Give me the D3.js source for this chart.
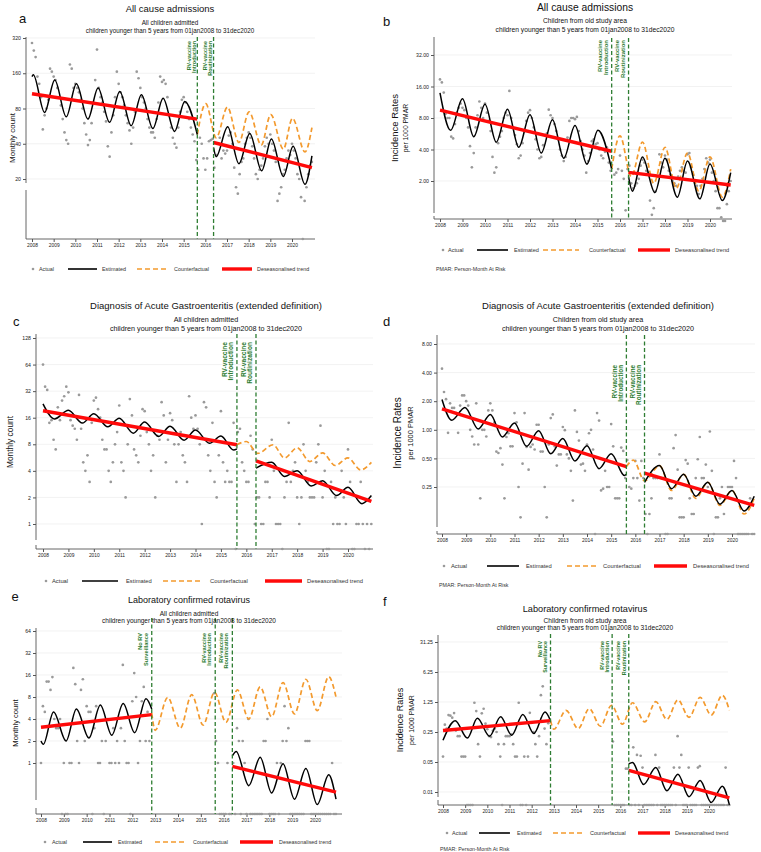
<!DOCTYPE html>
<html><head><meta charset="utf-8">
<script src="https://cdn.jsdelivr.net/npm/d3@7"></script>
<style>body{margin:0;background:#fff}svg{display:block;font-family:"Liberation Sans",Arial,sans-serif}</style>
</head><body><svg id="c" width="761" height="852"></svg>
<script>
// ---------------- DATA ----------------
const years = [2008,2009,2010,2011,2012,2013,2014,2015,2016,2017,2018,2019,2020];
const firstMonth = 2008;              // Jan 2008, monthly series of 156 months
const rvIntroduction = 2015.63;       // RV-vaccine introduction
const rvRoutinization = 2016.38;      // RV-vaccine routinization
const noSurveillance = 2012.85;       // end of RV surveillance

const legendLabels = ["Actual","Estimated","Counterfactual","Deseasonalised trend"];

// Panel a: all cause admissions, all children (monthly count)
const aActual = [
290,250,220,150,130,100,53,70,80,95,175,165,
150,140,120,100,85,65,50,43,40,190,175,120,
130,120,110,95,80,60,48,39,43,60,90,140,
255,120,100,90,75,62,38,31,50,70,100,165,
130,110,100,85,70,60,52,40,55,75,165,145,
120,100,90,80,65,55,50,50,45,65,90,150,
135,140,130,100,70,55,45,40,37,55,75,95,
100,90,75,65,55,48,42,29,24,45,40,30,
24,30,42,43,44,25,32,40,45,30,35,33,
35,47,50,40,25,17,15,22,28,30,40,45,
50,45,38,30,22,20,24,26,30,38,45,40,
48,40,35,28,13,15,17,22,24,30,35,32,
40,35,30,22,20,14,0,13,17,22,26,28];
const aTrendPre = [[2008,107],[2015.63,65]];
const aTrendPost = [[2016.38,41],[2020.92,25]];
const aEstPre = [[2008,150],[2008.06,155],[2008.58,74],[2009.05,140],[2009.58,68],[2010.05,130],[2010.58,65],[2011.05,120],[2011.58,61],[2012.05,112],[2012.58,57],[2013.05,105],[2013.58,54],[2014.05,98],[2014.58,51],[2015.05,92],[2015.63,48]];
const aCounterfactual = [[2015.63,48],[2016.02,88],[2016.5,45],[2017.02,82],[2017.55,41],[2018.02,75],[2018.58,39],[2019.02,71],[2019.6,36],[2020.02,66],[2020.6,34],[2020.92,55]];
const aEstPost = [[2016.38,37],[2016.5,31],[2017.03,56],[2017.55,27],[2018.05,49],[2018.6,23.5],[2019.05,44],[2019.6,21],[2020.05,38],[2020.6,18],[2020.92,31.5]];

// Panel b: all cause admissions, old study area (rate per 1000 PMAR)
const bActual = [
18.7,17.5,14,8.8,8,8,5.3,5.1,7,9,10,11,
10,9.5,8,6.5,4.3,2.7,3.7,6.5,8.5,11.5,10,8,
11,9,7.5,6,3.4,2.4,2.7,4.6,5.3,6,8,9,
8.5,14.5,8,6.5,5.5,4.5,3.3,3.5,4.6,6,7.5,9,
9.5,8,6.5,5,4,3.3,3.4,4.4,5.5,5.7,9.6,8.5,
8,7,6,5,4,3.5,3.1,3.4,5.2,7.5,8,8,
7.8,8.2,6,4.8,4,3.5,2.4,3.1,3.7,4.8,5,4.5,
4.6,4,3.5,3.3,3.8,4.2,3,2.5,1.05,2.3,2.4,2.6,
3.5,2.5,2.1,1.05,2.6,2.8,1.9,1.7,1.8,1.9,2.1,2.8,
3.2,3,2.5,2.4,1.3,0.95,1.1,1.6,2.2,3.6,3,2.7,
3.5,3.2,2.5,2.3,2,1.9,1.8,2.2,2.5,2.7,2.5,2.4,
3.6,3.7,2.7,2.3,2,1.8,1.5,1.8,2.1,2.6,3.3,3,
3.2,2.4,2.0,1.6,1.1,1.1,0.9,0.83,0.83,1.2,1.6,2.0];
const bTrendPre = [[2008,9.5],[2015.63,3.85]];
const bTrendPost = [[2016.38,2.42],[2020.92,1.83]];
const bEstPre = [[2008,13.9],[2008.47,6.1],[2009,12.2],[2009.5,5.3],[2010,10.8],[2010.5,4.7],[2011,9.7],[2011.5,4.2],[2012,8.6],[2012.5,3.7],[2013,7.7],[2013.5,3.3],[2014,6.8],[2014.53,2.9],[2015.02,6.1],[2015.63,2.6]];
const bCounterfactual = [[2015.63,2.6],[2016.0,5.4],[2016.5,2.2],[2017.0,4.7],[2017.5,1.9],[2018.0,4.2],[2018.5,1.7],[2019.0,3.7],[2019.5,1.6],[2020.0,3.4],[2020.55,1.4],[2020.92,2.6]];
const bEstPost = [[2016.38,2.2],[2016.55,1.6],[2017.0,3.4],[2017.55,1.55],[2018.0,3.3],[2018.55,1.4],[2019.0,3.1],[2019.55,1.35],[2020.0,2.9],[2020.55,1.3],[2020.92,2.4]];

// Panel c: AGE (extended), all children (monthly count)
const cActual = [
64,36,33,14,15,9,7,21,15,25,28,36,
31,15,13,12,9,29,12,5,4,6,3,14,
25,27,20,16,9,7,7,4,3,5,8,11,
22,5,4,2,8,26,17,7,6,5,10,20,
19,11,8,4,6,2,10,9,24,17,5,9,
18,15,8,3,8,11,6,5,3,28,16,12,
17,12,8,1,24,21,6,4,14,3,2,6,
19,5,3,4,3,3,14,0,11,12,5,4,
3,3,10,7,1,2,2,1,1,3,3,2,
9,4,1,1,1,0,2,3,14,3,4,5,
2,1,2,8,4,3,2,2,2,5,8,13,
2,4,0,0,3,1,2,1,1,4,2,1,
7,3,0,0,1,1,3,1,0,1,0,1];
const cTrendPre = [[2008,19.2],[2015.63,7.9]];
const cTrendPost = [[2016.38,5.2],[2020.92,1.8]];
const cEstPre = [[2008,23],[2008.45,15.5],[2009.0,19.4],[2009.55,13.9],[2010.0,17.8],[2010.55,12.6],[2011.0,15.8],[2011.55,10.7],[2012.0,14.3],[2012.55,9.8],[2013.0,12.8],[2013.55,8.9],[2014.0,11.6],[2014.55,8.2],[2015.0,9.9],[2015.5,6.9],[2015.63,7.1]];
const cCounterfactual = [[2015.63,7.9],[2016.0,8.6],[2016.45,6.3],[2017.05,7.9],[2017.5,5.6],[2018.0,7.3],[2018.5,5.1],[2019.0,6.4],[2019.5,4.6],[2020.0,5.6],[2020.5,4.1],[2020.92,5.0]];
const cEstPost = [[2016.38,4.3],[2017.0,5.0],[2017.5,3.45],[2018.0,4.0],[2018.55,2.7],[2019.0,3.1],[2019.55,2.1],[2020.0,2.6],[2020.55,1.7],[2020.92,2.1]];

// Panel d: AGE (extended), old study area (rate per 1000 PMAR)
const dActual = [
4.4,2.5,2.1,0.93,1.9,1.7,1.7,1.5,0.93,1.8,2.3,2.3,
2.0,1.8,1.0,0.85,0.7,1.9,0.7,0.19,1.0,1.0,0.85,1.6,
1.9,1.6,1.2,0.59,0.57,0.64,0.43,0.19,0.84,0.92,0.67,0.67,
1.5,1.2,0.25,0.12,0.44,1.5,0.66,0.38,0.66,0.7,0.62,1.13,
1.13,0.59,0.59,0.25,0.12,0.7,1.33,1.45,0.67,0.42,0.55,0.55,
1.07,0.99,0.55,0.5,0.37,0.18,1.6,0.95,0.77,0.43,0.44,0.37,
0.7,0.92,1.0,0.62,0,1.5,1.25,0.23,0.24,0.37,0.25,0.25,
1.15,0.67,0.19,0.19,0.19,0.65,0.6,0.31,0.48,0.25,0.24,0.31,
0.47,0.31,0.18,0.47,0.31,0.13,0,0.13,0.19,0.31,0.31,0.31,
0.55,0.31,0.31,0,0,0.19,0.19,0.64,0.88,0.38,0.12,0.12,
0.12,0.48,0.44,0.19,0.13,0.13,0.31,0.49,0.84,0.31,0.31,0.43,
0.25,0.96,0.37,0,0.12,0.12,0.19,0.25,0.13,0.19,0.25,0.25,
0.25,0.47,0.31,0,0,0,0,0,0,0.19,0,0];
const dTrendPre = [[2008,1.66],[2015.63,0.41]];
const dTrendPost = [[2016.38,0.35],[2020.92,0.16]];
const dEstPre = [[2008,2.08],[2008.4,1.26],[2008.95,1.72],[2009.5,1.02],[2010,1.45],[2010.5,0.84],[2011,1.18],[2011.5,0.67],[2012,0.98],[2012.5,0.56],[2013,0.81],[2013.5,0.47],[2014,0.68],[2014.5,0.39],[2015,0.56],[2015.55,0.33],[2015.63,0.34]];
const dCounterfactual = [[2015.63,0.41],[2015.92,0.48],[2016.38,0.29],[2017.0,0.42],[2017.5,0.23],[2018.0,0.34],[2018.5,0.19],[2019.0,0.28],[2019.5,0.16],[2020.0,0.23],[2020.5,0.13],[2020.92,0.19]];
const dEstPost = [[2016.38,0.28],[2017.0,0.42],[2017.5,0.24],[2018.0,0.34],[2018.5,0.2],[2019.0,0.28],[2019.5,0.165],[2020.0,0.23],[2020.5,0.14],[2020.92,0.2]];

// Panel e: lab-confirmed rotavirus, all children (monthly count); null = no surveillance
const eActual = [
1,6,5,13,13,10,15,4,3,3,4,0,
1,0,0,1,1,20,12,2,1,10,14,2,
6,5,5,0,3,6,1,1,2,0,2,4,
1,1,3,1,2,1,3,22,2,1,1,0,
7,17,8,1,2,7,11,2,5,2,null,null,
null,null,null,null,null,null,null,null,null,null,null,null,
null,null,null,null,null,null,null,null,null,null,null,null,
null,null,null,null,null,null,null,9,2,1,0,0,
0,0,1,0,0,1,0,3,2,0,2,1,
0,4,0,0,0,0,0,0,0,2,2,4,
0,0,0,0,1,0,1,2,6,2,3,0,
0,0,0,0,0,0,0,2,2,2,0,0,
0,0,0,0,0,0,0,0,0,1,0,0];
const eTrendPre = [[2008,3.08],[2012.85,4.6]];
const eTrendPost = [[2016.38,0.9],[2020.92,0.4]];
const eEstPre = [[2008,2.0],[2008.1,1.8],[2008.55,5.0],[2009.1,2.0],[2009.55,5.5],[2010.1,2.2],[2010.6,6.2],[2011.1,2.4],[2011.6,6.5],[2012.1,2.6],[2012.6,7.6],[2012.85,5.5]];
const eCounterfactual = [[2012.85,4.8],[2013.0,2.8],[2013.55,7.9],[2014.1,3.0],[2014.6,8.6],[2015.1,3.3],[2015.6,9.3],[2016.1,3.6],[2016.6,10],[2017.1,4.0],[2017.6,11],[2018.1,4.3],[2018.6,12.6],[2019.1,4.7],[2019.6,14],[2020.1,5.2],[2020.6,15.2],[2020.92,8]];
const eEstPost = [[2016.38,1.25],[2016.55,1.44],[2017.1,0.49],[2017.6,1.2],[2018.1,0.39],[2018.6,0.98],[2019.1,0.32],[2019.6,0.84],[2020.1,0.27],[2020.6,0.69],[2020.92,0.32]];

// Panel f: lab-confirmed rotavirus, old study area (rate per 1000 PMAR)
const fActual = [
0.067,0.37,0.3,0.62,0.6,0.54,0.69,0.27,0.2,0.2,0.067,0.067,
0.067,0,0,0,0,1.2,0.77,0.13,0.067,0.68,0.87,0.39,
0.29,0.2,0.19,0.27,0.3,0.25,0.13,0.067,0,0.13,0.2,0.2,
0.2,0.22,0.13,0.067,0.067,1.2,0,0,0.067,0,0.067,0.7,
0.41,0.25,0.13,0.067,0.2,1.8,2.9,0.3,0.13,0.4,null,null,
null,null,null,null,null,null,null,null,null,null,null,null,
null,null,null,null,null,null,null,null,null,null,null,null,
null,null,null,null,null,null,null,null,0.15,0,0,0,
0,0,0,0.035,0.035,0,0,0.11,0,0.073,0,0.07,
0.037,0,0,0,0,0,0,0.073,0,0.037,0,0,
0,0,0,0,0,0.037,0,0.2,0.037,0.073,0,0,
0,0.037,0,0,0,0,0.037,0.04,0,0,0,0,
0,0,0,0,0,0,0,0,0,0.037,0,0];
const fTrendPre = [[2008,0.27],[2012.85,0.46]];
const fTrendPost = [[2016.38,0.032],[2020.92,0.0073]];
const fEstPre = [[2008,0.16],[2008.55,0.46],[2009.1,0.18],[2009.55,0.52],[2010.1,0.2],[2010.6,0.57],[2011.1,0.21],[2011.6,0.64],[2012.1,0.23],[2012.6,0.73],[2012.85,0.46]];
const fCounterfactual = [[2012.85,0.46],[2013.0,0.29],[2013.55,0.8],[2014.1,0.3],[2014.6,0.88],[2015.1,0.34],[2015.6,1.05],[2016.1,0.38],[2016.55,1.2],[2017.1,0.43],[2017.6,1.27],[2018.1,0.49],[2018.6,1.4],[2019.1,0.55],[2019.6,1.6],[2020.1,0.62],[2020.6,1.8],[2020.92,0.8]];
const fEstPost = [[2016.38,0.045],[2016.55,0.049],[2017.05,0.015],[2017.6,0.037],[2018.1,0.0107],[2018.6,0.026],[2019.1,0.0078],[2019.6,0.0186],[2020.1,0.0057],[2020.6,0.0137],[2020.92,0.005]];

// tick values / labels
const countTicksA = [20,40,80,160,320];
const rateTicksB = [2,4,8,16,32], rateLabelsB = ["2.00","4.00","8.00","16.00","32.00"];
const countTicksC = [1,2,4,8,16,32,64,128];
const rateTicksD = [0.25,0.5,1,2,4,8], rateLabelsD = ["0.25","0.50","1.00","2.00","4.00","8.00"];
const countTicksE = [1,2,4,8,16,32,64];
const rateTicksF = [0.01,0.05,0.25,1.25,6.25,31.25], rateLabelsF = ["0.01","0.05","0.25","1.25","6.25","31.25"];

const titleAll = "All cause admissions", titleAge = "Diagnosis of Acute Gastroenteritis (extended definition)", titleRv = "Laboratory confirmed rotavirus";
const subAll = "All children admitted", subOld = "Children from old study area";
const subPeriod = "children younger than 5 years from 01jan2008 to 31dec2020";
const pmarNote = "PMAR: Person-Month At Risk";

// ---------------- PANELS (data + layout) ----------------
const panels = [
 {letter:"a", title:titleAll, sub:subAll, actual:aActual, trends:[aTrendPre,aTrendPost], est:[aEstPre,aEstPost], cf:aCounterfactual,
  ticks:countTicksA, labels:countTicksA.map(String), events:[rvIntroduction,rvRoutinization], ylab:["Monthly count"],
  L:{x0:32,x1:292,yax:26,xend:315,top:37,bot:239,brk:[183,190],tLo:179,tHi:38,gTop:37,
     lx:19,ly:23,fs:13,tx:170,ty:12.3,tfs:9.5,s1:25,s2:33,sfs:6.3,ylx:[12],yly:138,ylfs:[8],xl:250,
     glt:41,gfs:5.5,goff:[-8.5,-3.5],leg:{y:269,d:33,t:39,e:[68,97,102],c:[137,167,174],r:[222,252,257]},lfs:5.4,note:null}},
 {letter:"b", title:titleAll, sub:subOld, actual:bActual, trends:[bTrendPre,bTrendPost], est:[bEstPre,bEstPost], cf:bCounterfactual,
  ticks:rateTicksB, labels:rateLabelsB, events:[rvIntroduction,rvRoutinization], ylab:["Incidence Rates","per 1000 PMAR"],
  L:{x0:440,x1:710,yax:434,xend:732,top:37,bot:219,brk:[213,216],tLo:181,tHi:55,gTop:38,
     lx:383,ly:26,fs:13,tx:585,ty:11,tfs:10.3,s1:23,s2:31.6,sfs:6.7,ylx:[395,406],yly:128,ylfs:[9.5,6.8],xl:232,
     glt:40,gfs:6,goff:[-12,-5.5],leg:{y:250,d:443,t:448,e:[477,508,514],c:[543,579,589],r:[638,670,675]},lfs:5.6,note:[436,269]}},
 {letter:"c", title:titleAge, sub:subAll, actual:cActual, trends:[cTrendPre,cTrendPost], est:[cEstPre,cEstPost], cf:cCounterfactual,
  ticks:countTicksC, labels:countTicksC.map(String), events:[rvIntroduction,rvRoutinization], ylab:["Monthly count"],
  L:{x0:43,x1:348,yax:36,xend:373,top:334,bot:549,brk:[540,545],tLo:524,tHi:338,gTop:334,
     lx:13,ly:326,fs:13,tx:206,ty:309,tfs:9.5,s1:321.5,s2:330.8,sfs:7.2,ylx:[10],yly:442,ylfs:[8.4],xl:561,
     glt:342,gfs:6.6,goff:[-12,-6],leg:{y:581,d:46,t:52,e:[82,118,126],c:[163,203,210],r:[265,302,307]},lfs:5.8,note:null}},
 {letter:"d", title:titleAge, sub:subOld, actual:dActual, trends:[dTrendPre,dTrendPost], est:[dEstPre,dEstPost], cf:dCounterfactual,
  ticks:rateTicksD, labels:rateLabelsD, events:[rvIntroduction,rvRoutinization], ylab:["Incidence Rates","per 1000 PMAR"],
  L:{x0:442,x1:732,yax:437,xend:755,top:335,bot:534,brk:[527,531],tLo:487,tHi:344,gTop:335,
     lx:383,ly:326,fs:13,tx:598,ty:309,tfs:9.5,s1:321.5,s2:331,sfs:7.2,ylx:[397,410],yly:433,ylfs:[10,7.5],xl:545.5,
     glt:365,gfs:6.3,goff:[-12,-6],leg:{y:566,d:444,t:451,e:[487,519,526],c:[567,598,603],r:[654,687,693]},lfs:5.8,note:[439,585]}},
 {letter:"e", title:titleRv, sub:subAll, actual:eActual, trends:[eTrendPre,eTrendPost], est:[eEstPre,eEstPost], cf:eCounterfactual,
  ticks:countTicksE, labels:countTicksE.map(String), events:[noSurveillance,rvIntroduction,rvRoutinization], ylab:["Monthly count"],
  L:{x0:41,x1:315,yax:36,xend:342,top:628,bot:814,brk:[800,808],tLo:763,tHi:631,gTop:618,
     lx:11.5,ly:601,fs:13,tx:189,ty:603,tfs:9,s1:615.6,s2:623.3,sfs:6.5,ylx:[15],yly:723,ylfs:[7.6],xl:824,
     glt:633,gfs:5.6,goff:[-11.5,-6],leg:{y:842,d:45,t:52,e:[83,112,118],c:[155,187,193],r:[240,273,279]},lfs:5.4,note:null}},
 {letter:"f", title:titleRv, sub:subOld, actual:fActual, trends:[fTrendPre,fTrendPost], est:[fEstPre,fEstPost], cf:fCounterfactual,
  ticks:rateTicksF, labels:rateLabelsF, events:[noSurveillance,rvIntroduction,rvRoutinization], ylab:["Incidence Rates","per 1000 PMAR"],
  L:{x0:443,x1:709,yax:438,xend:728,top:635,bot:805,brk:[797,800],tLo:792,tHi:642,gTop:634,
     lx:383,ly:606,fs:13,tx:585,ty:611.5,tfs:9.2,s1:622.6,s2:630,sfs:6.6,ylx:[400,412],yly:720,ylfs:[9,7],xl:815,
     glt:641,gfs:5.4,goff:[-10.5,-5],leg:{y:833,d:447,t:452,e:[479,510,517],c:[553,583,590],r:[638,670,675]},lfs:5.5,note:[440,849]}}
];

const eventLabels = {}; 
eventLabels[noSurveillance] = ["No RV","Surveillance"];
eventLabels[rvIntroduction] = ["RV-vaccine","Introduction"];
eventLabels[rvRoutinization] = ["RV-vaccine","Routinization"];

const COL = {pt:"#9a9a9a", est:"#000", cf:"#f39a2e", red:"#ff0a0a", green:"#2e7d32", axis:"#555", grid:"#ececec", text:"#111"};

const svg = d3.select("#c");
svg.append("rect").attr("width",761).attr("height",852).attr("fill","#fff");

panels.forEach(p => {
  const L = p.L;
  const g = svg.append("g");
  const x = d3.scaleLinear().domain([years[0], years[years.length-1]]).range([L.x0, L.x1]);
  const y = d3.scaleLog().domain([p.ticks[0], p.ticks[p.ticks.length-1]]).range([L.tLo, L.tHi]);
  const yv = v => v === 0 ? L.bot : y(v);

  // gridlines
  g.selectAll(".grid").data(p.ticks).join("line")
    .attr("x1", L.yax).attr("x2", L.xend).attr("y1", d => y(d)).attr("y2", d => y(d))
    .attr("stroke", COL.grid).attr("stroke-width", 0.7);

  // y axis
  const ya = g.append("g").attr("transform", `translate(${L.yax},0)`)
    .call(d3.axisLeft(y).tickValues(p.ticks).tickFormat((d,i) => p.labels[i]).tickSize(3).tickPadding(2));
  ya.select(".domain").remove();
  ya.selectAll("line").attr("stroke", COL.axis);
  ya.selectAll("text").attr("font-size", 5.2).attr("fill", "#222").attr("font-family", '"Liberation Sans",Arial,sans-serif');
  g.append("line").attr("x1",L.yax).attr("x2",L.yax).attr("y1",L.top).attr("y2",L.brk[0]).attr("stroke",COL.axis).attr("stroke-width",0.9);
  g.append("line").attr("x1",L.yax).attr("x2",L.yax).attr("y1",L.brk[1]).attr("y2",L.bot).attr("stroke",COL.axis).attr("stroke-width",0.9);

  // x axis
  const xa = g.append("g").attr("transform", `translate(0,${L.bot})`)
    .call(d3.axisBottom(x).tickValues(years).tickFormat(d3.format("d")).tickSize(3).tickPadding(1.5));
  xa.select(".domain").remove();
  xa.selectAll("line").attr("stroke", COL.axis);
  xa.selectAll("text").attr("font-size", 4.9).attr("fill", "#222").attr("font-family", '"Liberation Sans",Arial,sans-serif');
  g.append("line").attr("x1",L.yax).attr("x2",L.xend).attr("y1",L.bot).attr("y2",L.bot).attr("stroke",COL.axis).attr("stroke-width",0.9);

  // actual points
  const pts = p.actual.map((v,i) => ({t: firstMonth + i/12, v})).filter(d => d.v !== null);
  g.selectAll(".pt").data(pts).join("circle")
    .attr("cx", d => x(d.t)).attr("cy", d => yv(d.v)).attr("r", 1.35).attr("fill", COL.pt);

  const curve = d3.line().x(d => x(d[0])).y(d => y(d[1])).curve(d3.curveMonotoneX);
  const straight = d3.line().x(d => x(d[0])).y(d => y(d[1]));

  // counterfactual
  g.append("path").attr("d", curve(p.cf)).attr("fill","none").attr("stroke",COL.cf)
    .attr("stroke-width",1.7).attr("stroke-dasharray","5,3");
  // estimated
  p.est.forEach(s => g.append("path").attr("d", curve(s)).attr("fill","none").attr("stroke",COL.est).attr("stroke-width",1.5));
  // trend
  p.trends.forEach(s => g.append("path").attr("d", straight(s)).attr("fill","none").attr("stroke",COL.red).attr("stroke-width",3.4));

  // event lines
  p.events.forEach(ev => {
    const xx = x(ev);
    g.append("line").attr("x1",xx).attr("x2",xx).attr("y1",L.gTop).attr("y2",L.bot)
      .attr("stroke",COL.green).attr("stroke-width",1.3).attr("stroke-dasharray","4,2.5");
    eventLabels[ev].forEach((lab,k) => {
      g.append("text").attr("transform", `translate(${xx + L.goff[k]},${L.glt}) rotate(-90)`)
        .attr("text-anchor","end").attr("dy","0.35em").attr("font-size",L.gfs).attr("font-weight","bold")
        .attr("fill",COL.green).text(lab);
    });
  });

  // titles
  g.append("text").attr("x",L.lx).attr("y",L.ly).attr("font-size",L.fs).attr("fill",COL.text).text(p.letter);
  g.append("text").attr("x",L.tx).attr("y",L.ty).attr("text-anchor","middle").attr("font-size",L.tfs).attr("fill",COL.text).text(p.title);
  g.append("text").attr("x",L.tx).attr("y",L.s1).attr("text-anchor","middle").attr("font-size",L.sfs).attr("fill",COL.text).text(p.sub);
  g.append("text").attr("x",L.tx).attr("y",L.s2).attr("text-anchor","middle").attr("font-size",L.sfs).attr("fill",COL.text).text(subPeriod);

  // y label(s)
  p.ylab.forEach((lab,k) => {
    g.append("text").attr("transform", `translate(${L.ylx[k]},${L.yly}) rotate(-90)`)
      .attr("text-anchor","middle").attr("dy","0.35em").attr("font-size",L.ylfs[k]).attr("fill",COL.text).text(lab);
  });

  // legend
  const lg = L.leg;
  g.append("circle").attr("cx",lg.d).attr("cy",lg.y).attr("r",1.3).attr("fill",COL.pt);
  const lt = (xx, s) => g.append("text").attr("x",xx).attr("y",lg.y).attr("dy","0.35em").attr("font-size",L.lfs).attr("fill","#333").text(s);
  lt(lg.t, legendLabels[0]);
  g.append("line").attr("x1",lg.e[0]).attr("x2",lg.e[1]).attr("y1",lg.y).attr("y2",lg.y).attr("stroke",COL.est).attr("stroke-width",1.6);
  lt(lg.e[2], legendLabels[1]);
  g.append("line").attr("x1",lg.c[0]).attr("x2",lg.c[1]).attr("y1",lg.y).attr("y2",lg.y).attr("stroke",COL.cf).attr("stroke-width",1.6).attr("stroke-dasharray","5,3");
  lt(lg.c[2], legendLabels[2]);
  g.append("line").attr("x1",lg.r[0]).attr("x2",lg.r[1]).attr("y1",lg.y).attr("y2",lg.y).attr("stroke",COL.red).attr("stroke-width",3.4);
  lt(lg.r[2], legendLabels[3]);

  if (L.note) g.append("text").attr("x",L.note[0]).attr("y",L.note[1]).attr("dy","0.35em").attr("font-size",5.3).attr("fill","#333").text(pmarNote);
});
</script></body></html>
